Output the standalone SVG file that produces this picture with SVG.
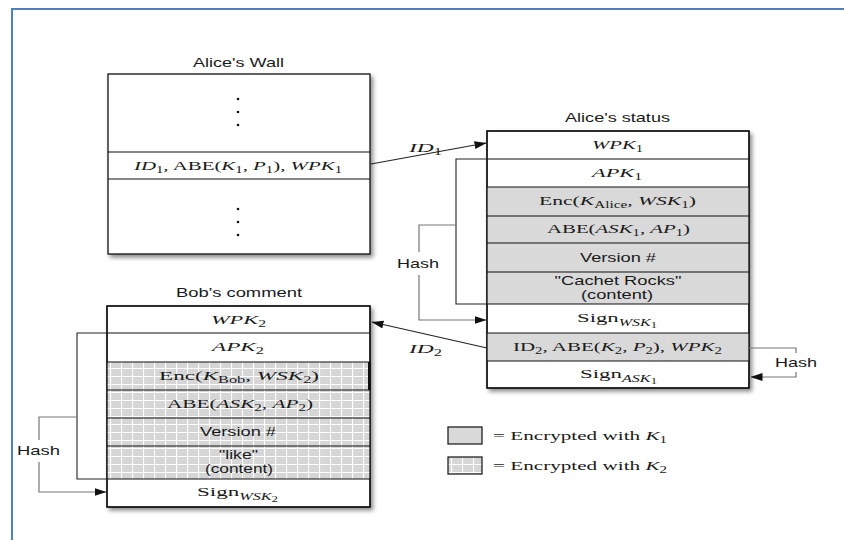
<svg xmlns="http://www.w3.org/2000/svg" width="844" height="540" viewBox="0 0 844 540">
  <style>
    .box { fill: #fff; stroke: #111; stroke-width: 1.3; }
    .frame { fill: none; stroke: #111; stroke-width: 1.3; }
    .row { stroke: #111; stroke-width: 1.2; }
    .k1 { fill: #d9d9d9; }
    .k2 { fill: url(#grid); }
    .sans { font-family: "Liberation Sans", Arial, sans-serif; font-size: 13px; fill: #1a1a1a; }
    .m { font-family: "Liberation Serif", "Times New Roman", serif; font-size: 13.5px; fill: #1a1a1a; }
    .i { font-style: italic; }
    .s { font-size: 9.5px; }
    .ss { font-size: 7.5px; }
    .c { text-anchor: middle; }
    .link { fill: none; stroke: #222; stroke-width: 1.1; }
    .hash { fill: none; stroke: #777; stroke-width: 1.2; }
  </style>
  <defs>
    <pattern id="grid" width="11" height="8" patternUnits="userSpaceOnUse">
      <rect width="11" height="8" fill="#d6d6d6"/>
      <path d="M0 0.5H11M0.5 0V8" stroke="#fff" stroke-width="1.2"/>
    </pattern>
    <filter id="shadow" x="-10%" y="-10%" width="125%" height="125%">
      <feDropShadow dx="2.5" dy="3" stdDeviation="2.2" flood-color="#000" flood-opacity="0.45"/>
    </filter>
    <marker id="arrow" viewBox="0 0 12 8" refX="11.5" refY="4" markerWidth="12" markerHeight="8" markerUnits="userSpaceOnUse" orient="auto">
      <path d="M0 0L12 4L0 8Z" fill="#111"/>
    </marker>
  </defs>

  <rect width="844" height="540" fill="#fff"/>
  <!-- page frame -->
  <rect x="12" y="9" width="900" height="600" fill="none" stroke="#4f81bd" stroke-width="2"/>

  <!-- Alice's Wall -->
  <g id="alice-wall">
    <text class="sans c" x="238.5" y="67" textLength="91" lengthAdjust="spacingAndGlyphs">Alice's Wall</text>
    <rect class="box" x="108" y="74" width="262" height="180" filter="url(#shadow)"/>
    <line class="row" x1="108" y1="152" x2="370" y2="152"/>
    <line class="row" x1="108" y1="179" x2="370" y2="179"/>
    <g fill="#111">
      <circle cx="238" cy="99" r="1.3"/><circle cx="238" cy="112" r="1.3"/><circle cx="238" cy="125" r="1.3"/>
      <circle cx="238" cy="209" r="1.3"/><circle cx="238" cy="222" r="1.3"/><circle cx="238" cy="235" r="1.3"/>
    </g>
    <text class="m c" x="238" y="170" textLength="208" lengthAdjust="spacingAndGlyphs"><tspan class="i">ID</tspan><tspan class="s" dy="3">1</tspan><tspan dy="-3">, ABE(</tspan><tspan class="i">K</tspan><tspan class="s" dy="3">1</tspan><tspan dy="-3">, </tspan><tspan class="i">P</tspan><tspan class="s" dy="3">1</tspan><tspan dy="-3">), </tspan><tspan class="i">WPK</tspan><tspan class="s" dy="3">1</tspan></text>
  </g>

  <!-- Alice's status -->
  <g id="alice-status">
    <text class="sans c" x="617.5" y="122" textLength="105" lengthAdjust="spacingAndGlyphs">Alice's status</text>
    <rect class="box" x="487" y="131" width="262" height="257" filter="url(#shadow)"/>
    <rect class="k1" x="487" y="187" width="262" height="117"/>
    <rect class="k1" x="487" y="333" width="262" height="28"/>
    <rect class="frame" x="487" y="131" width="262" height="257"/>
    <g class="row">
      <line x1="487" y1="159" x2="749" y2="159"/>
      <line x1="487" y1="187" x2="749" y2="187"/>
      <line x1="487" y1="216" x2="749" y2="216"/>
      <line x1="487" y1="243" x2="749" y2="243"/>
      <line x1="487" y1="272" x2="749" y2="272"/>
      <line x1="487" y1="304" x2="749" y2="304"/>
      <line x1="487" y1="333" x2="749" y2="333"/>
      <line x1="487" y1="361" x2="749" y2="361"/>
    </g>
    <text class="m c" x="617.5" y="149" textLength="51" lengthAdjust="spacingAndGlyphs"><tspan class="i">WPK</tspan><tspan class="s" dy="3">1</tspan></text>
    <text class="m c" x="617" y="177" textLength="50" lengthAdjust="spacingAndGlyphs"><tspan class="i">APK</tspan><tspan class="s" dy="3">1</tspan></text>
    <text class="m c" x="617.5" y="205" textLength="157" lengthAdjust="spacingAndGlyphs">Enc(<tspan class="i">K</tspan><tspan class="s" dy="3">Alice</tspan><tspan dy="-3">, </tspan><tspan class="i">WSK</tspan><tspan class="s" dy="3">1</tspan><tspan dy="-3">)</tspan></text>
    <text class="m c" x="618.5" y="233" textLength="143" lengthAdjust="spacingAndGlyphs">ABE(<tspan class="i">ASK</tspan><tspan class="s" dy="3">1</tspan><tspan dy="-3">, </tspan><tspan class="i">AP</tspan><tspan class="s" dy="3">1</tspan><tspan dy="-3">)</tspan></text>
    <text class="sans c" x="618" y="262" textLength="76" lengthAdjust="spacingAndGlyphs">Version #</text>
    <text class="sans c" x="618" y="284.5" textLength="127" lengthAdjust="spacingAndGlyphs">"Cachet Rocks"</text>
    <text class="sans c" x="617" y="299" textLength="72" lengthAdjust="spacingAndGlyphs">(content)</text>
    <text class="m c" x="617" y="322" textLength="80" lengthAdjust="spacingAndGlyphs">Sign<tspan class="i s" dy="4">WSK</tspan><tspan class="ss" dy="2">1</tspan></text>
    <text class="m c" x="617.5" y="351" textLength="209" lengthAdjust="spacingAndGlyphs">ID<tspan class="s" dy="3">2</tspan><tspan dy="-3">, ABE(</tspan><tspan class="i">K</tspan><tspan class="s" dy="3">2</tspan><tspan dy="-3">, </tspan><tspan class="i">P</tspan><tspan class="s" dy="3">2</tspan><tspan dy="-3">), </tspan><tspan class="i">WPK</tspan><tspan class="s" dy="3">2</tspan></text>
    <text class="m c" x="618.5" y="378" textLength="77" lengthAdjust="spacingAndGlyphs">Sign<tspan class="i s" dy="4">ASK</tspan><tspan class="ss" dy="2">1</tspan></text>
  </g>

  <!-- Bob's comment -->
  <g id="bob-comment">
    <text class="sans c" x="239" y="297" textLength="126" lengthAdjust="spacingAndGlyphs">Bob's comment</text>
    <rect class="box" x="107" y="306" width="263" height="201" filter="url(#shadow)"/>
    <rect class="k2" x="107" y="362" width="263" height="117"/>
    <rect class="frame" x="107" y="306" width="263" height="201"/>
    <g class="row">
      <line x1="107" y1="333" x2="370" y2="333"/>
      <line x1="107" y1="362" x2="370" y2="362"/>
      <line x1="107" y1="390" x2="370" y2="390"/>
      <line x1="107" y1="418" x2="370" y2="418"/>
      <line x1="107" y1="446" x2="370" y2="446"/>
      <line x1="107" y1="479" x2="370" y2="479"/>
    </g>
    <line x1="369.5" y1="362" x2="369.5" y2="390" stroke="#111" stroke-width="3"/>
    <text class="m c" x="238.5" y="324" textLength="55" lengthAdjust="spacingAndGlyphs"><tspan class="i">WPK</tspan><tspan class="s" dy="3">2</tspan></text>
    <text class="m c" x="238" y="351" textLength="52" lengthAdjust="spacingAndGlyphs"><tspan class="i">APK</tspan><tspan class="s" dy="3">2</tspan></text>
    <text class="m c" x="239" y="380" textLength="160" lengthAdjust="spacingAndGlyphs">Enc(<tspan class="i">K</tspan><tspan class="s" dy="3">Bob</tspan><tspan dy="-3">, </tspan><tspan class="i">WSK</tspan><tspan class="s" dy="3">2</tspan><tspan dy="-3">)</tspan></text>
    <text class="m c" x="240" y="408" textLength="146" lengthAdjust="spacingAndGlyphs">ABE(<tspan class="i">ASK</tspan><tspan class="s" dy="3">2</tspan><tspan dy="-3">, </tspan><tspan class="i">AP</tspan><tspan class="s" dy="3">2</tspan><tspan dy="-3">)</tspan></text>
    <text class="sans c" x="238" y="436" textLength="76" lengthAdjust="spacingAndGlyphs">Version #</text>
    <text class="sans c" x="238.5" y="458.5" textLength="39" lengthAdjust="spacingAndGlyphs">"like"</text>
    <text class="sans c" x="239" y="473" textLength="68" lengthAdjust="spacingAndGlyphs">(content)</text>
    <text class="m c" x="237.5" y="496" textLength="81" lengthAdjust="spacingAndGlyphs">Sign<tspan class="i s" dy="4">WSK</tspan><tspan class="ss" dy="2">2</tspan></text>
  </g>

  <!-- Legend -->
  <g id="legend">
    <rect x="448" y="427" width="34" height="17" fill="#d9d9d9" stroke="#111" stroke-width="1.2"/>
    <text class="m" x="493" y="440" textLength="174" lengthAdjust="spacingAndGlyphs">= Encrypted with <tspan class="i">K</tspan><tspan class="s" dy="3">1</tspan></text>
    <rect x="448" y="457" width="34" height="17" fill="url(#grid)" stroke="#111" stroke-width="1.2"/>
    <text class="m" x="493" y="470" textLength="174" lengthAdjust="spacingAndGlyphs">= Encrypted with <tspan class="i">K</tspan><tspan class="s" dy="3">2</tspan></text>
  </g>

  <!-- Connectors -->
  <g id="connectors">
    <!-- wall entry to status -->
    <line class="link" x1="371" y1="164" x2="486" y2="143" marker-end="url(#arrow)"/>
    <text class="m c" x="425.5" y="152" textLength="33" lengthAdjust="spacingAndGlyphs"><tspan class="i">ID</tspan><tspan class="s" dy="3">1</tspan></text>
    <!-- status entry to comment -->
    <line class="link" x1="487" y1="348" x2="372" y2="322" marker-end="url(#arrow)"/>
    <text class="m c" x="425.5" y="353" textLength="33" lengthAdjust="spacingAndGlyphs"><tspan class="i">ID</tspan><tspan class="s" dy="3">2</tspan></text>

    <!-- status hash: APK..content -> Sign -->
    <path class="link" d="M487 159H456V304H487"/>
    <path class="hash" d="M456 225H419V252M419 275V320H486" marker-end="url(#arrow)"/>
    <text class="sans c" x="418" y="268" textLength="42" lengthAdjust="spacingAndGlyphs">Hash</text>

    <!-- status hash: ID2 entry -> Sign -->
    <path class="hash" d="M749 348H796V353M796 372V377H751" marker-end="url(#arrow)"/>
    <text class="sans c" x="796" y="367" textLength="42" lengthAdjust="spacingAndGlyphs">Hash</text>

    <!-- comment hash: APK..content -> Sign -->
    <path class="link" d="M107 333H77V479H107"/>
    <path class="hash" d="M77 417H39V440M39 462V492H106" marker-end="url(#arrow)"/>
    <text class="sans c" x="38.5" y="455" textLength="43" lengthAdjust="spacingAndGlyphs">Hash</text>
  </g>
</svg>
